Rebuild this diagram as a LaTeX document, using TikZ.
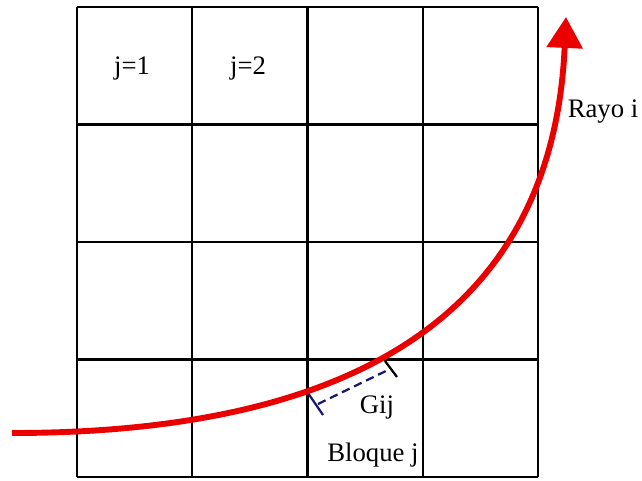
\documentclass[tikz,border=0pt]{standalone}
\usepackage{fontspec}
\setmainfont{Liberation Serif}
\usetikzlibrary{arrows.meta}
\definecolor{rayred}{RGB}{235,0,0}
\definecolor{gijblue}{RGB}{25,25,112}

\begin{document}
\begin{tikzpicture}[
    x=0.025cm, y=-0.025cm,
    cellline/.style={draw=black, line width=1.6pt},
    ray/.style={draw=rayred, line width=4.2pt, -{Triangle[length=22pt, width=25pt]}},
    gij/.style={draw=gijblue, line width=1.6pt, dash pattern=on 6pt off 3.5pt},
    gijbar/.style={line width=1.6pt},
    every node/.style={font=\rmfamily\fontsize{19}{21}\selectfont, text=black},
]
\useasboundingbox (0,0) rectangle (642,480);

% Grid of blocks
\foreach \c in {0,...,4}
    \draw[cellline] (77+115.25*\c,7) -- (77+115.25*\c,477);
\foreach \r in {0,...,4}
    \draw[cellline] (77,7+117.5*\r) -- (538,7+117.5*\r);

% Labels of blocks
\node (j1) at (132,68) {j=1};
\node (j2) at (248,68) {j=2};
\node (bloque) at (373,455) {Bloque j};

% Path length Gij
\coordinate (gA) at (318,404);
\coordinate (gB) at (390,369);
\coordinate (gA1) at (308,393);
\coordinate (gA2) at (323,415);
\coordinate (gB1) at (385,361);
\coordinate (gB2) at (397,377);
\draw[gij] (gA) -- (gB);
\draw[gijbar, draw=gijblue] (gA1) -- (gA2);
\draw[gijbar, draw=black] (gB1) -- (gB2);
\node (gij) at (377,407) {Gij};

% Ray i
\coordinate (rayStart) at (12,433);
\coordinate (rayEnd) at (566,17);
\draw[ray] (rayStart) .. controls (330,433) and (552,330) .. (rayEnd);
\node (rayo) at (603,112) {Rayo i};

\end{tikzpicture}
\end{document}
